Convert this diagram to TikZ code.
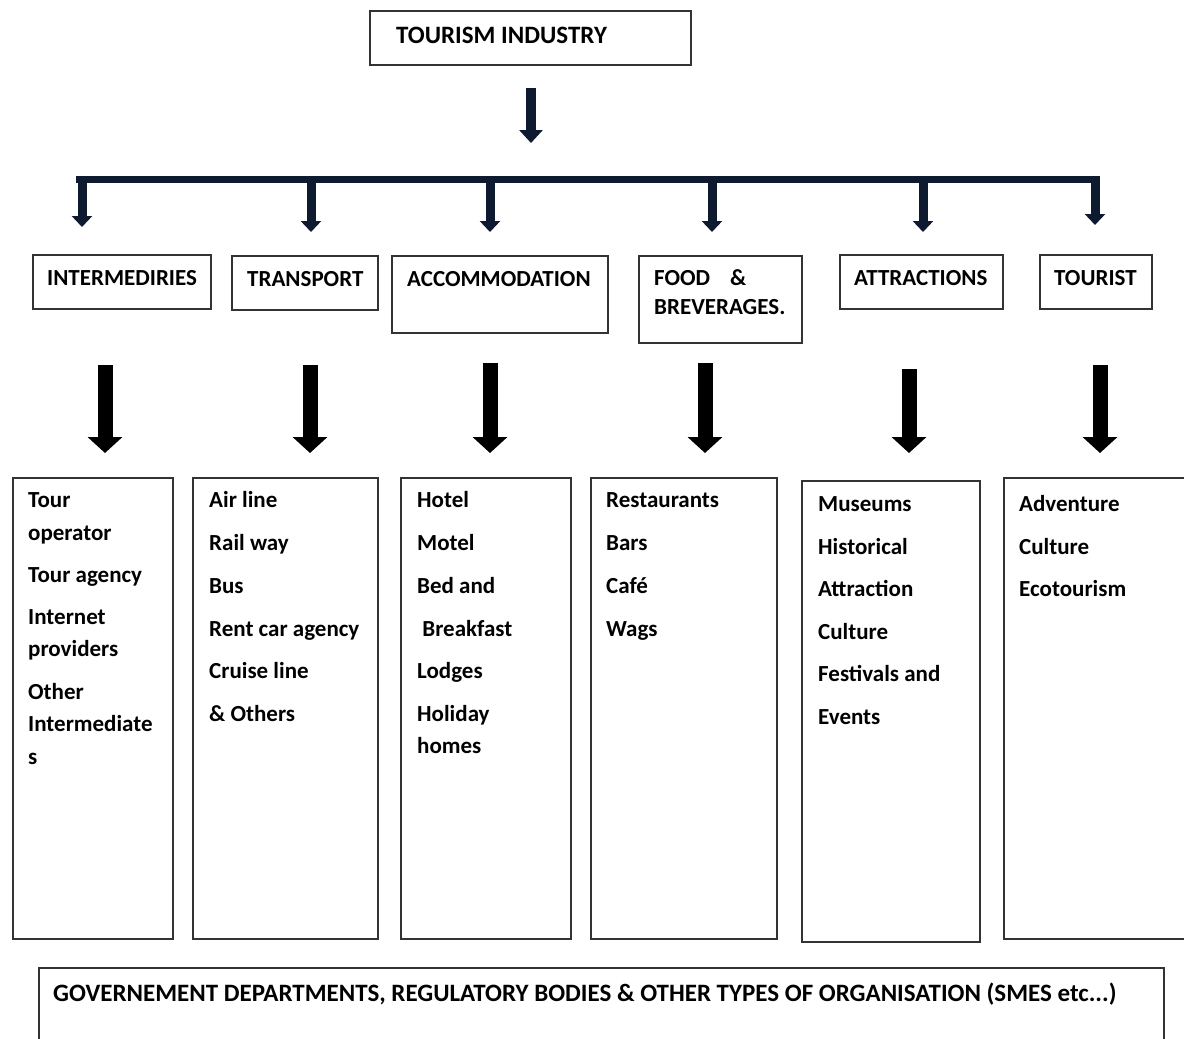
\documentclass[tikz,border=0pt]{standalone}
\usepackage{fontspec}
\setmainfont{Carlito}
\usetikzlibrary{arrows.meta}
\definecolor{navy}{HTML}{0D1A30}
\definecolor{boxline}{HTML}{333333}
\tikzset{
  box/.style={draw=boxline,line width=1.5pt,rectangle,inner sep=0pt,anchor=north west},
  lbl/.style={anchor=base west,inner sep=0pt,font=\fontsize{23}{32}\selectfont\bfseries},
  biglbl/.style={lbl,font=\fontsize{25}{32}\selectfont\bfseries},
  navyarrow/.style={navy,line width=9pt,-{Triangle[width=20pt,length=11pt]}},
  toparrow/.style={navy,line width=10pt,-{Triangle[width=23pt,length=13pt]}},
  blackarrow/.style={black,line width=15pt,-{Triangle[width=34pt,length=16pt]}},
}
\begin{document}
\begin{tikzpicture}[x=1pt,y=-1pt]
\useasboundingbox (0,0) rectangle (1184,1039);
\clip (0,0) rectangle (1184,1039);
% top
\node[box,minimum width=321pt,minimum height=54pt] (top) at (369,10) {};
\node[biglbl] (toptxt) at (396,43) {TOURISM INDUSTRY};
\coordinate (ta) at (531,88);
\coordinate (tb) at (531,143);
\draw[toparrow] (ta) -- (tb);
% bar
\coordinate (barL) at (76,179.5);
\coordinate (barR) at (1100,179.5);
\draw[navy,line width=7pt] (barL) -- (barR);
\foreach \n/\x/\t in {d1/82/227,d2/311/232,d3/490/232,d4/712/232,d5/923/232,d6/1095/225}{
  \coordinate (\n s) at (\x,176);
  \coordinate (\n e) at (\x,\t);
  \draw[navyarrow] (\n s) -- (\n e);
}
% tier 2
\node[box,minimum width=178pt,minimum height=54pt] (b1) at (32,254) {};
\node[lbl] at (47,285) {INTERMEDIRIES};
\node[box,minimum width=146pt,minimum height=54pt] (b2) at (231,255) {};
\node[lbl] at (247,286) {TRANSPORT};
\node[box,minimum width=216pt,minimum height=77pt] (b3) at (391,255) {};
\node[lbl] at (407,286) {ACCOMMODATION};
\node[box,minimum width=163pt,minimum height=87pt] (b4) at (638,255) {};
\node[lbl] at (654,285) {FOOD\hspace{20pt}\&};
\node[lbl] at (654,314) {BREVERAGES.};
\node[box,minimum width=163pt,minimum height=54pt] (b5) at (839,254) {};
\node[lbl] at (854,285) {ATTRACTIONS};
\node[box,minimum width=112pt,minimum height=54pt] (b6) at (1039,254) {};
\node[lbl] at (1054,285) {TOURIST};
% big arrows
\foreach \n/\x/\s in {e1/105/365,e2/310/365,e3/490/363,e4/705/363,e5/909/369,e6/1100/365}{
  \coordinate (\n s) at (\x,\s);
  \coordinate (\n e) at (\x,453);
  \draw[blackarrow] (\n s) -- (\n e);
}
% tier 3 boxes
\node[box,minimum width=160pt,minimum height=461pt] (l1) at (12,477) {};
\node[box,minimum width=185pt,minimum height=461pt] (l2) at (192,477) {};
\node[box,minimum width=170pt,minimum height=461pt] (l3) at (400,477) {};
\node[box,minimum width=186pt,minimum height=461pt] (l4) at (590,477) {};
\node[box,minimum width=178pt,minimum height=461pt] (l5) at (801,480) {};
\node[box,minimum width=200pt,minimum height=461pt] (l6) at (1003,477) {};
% list texts
\foreach \y/\t in {507/Tour,540/operator,582/Tour agency,624/Internet,656/providers,699/Other,731/Intermediate,764/s}
  \node[lbl] at (28,\y) {\t};
\foreach \y/\t in {507/Air line,550/Rail way,593/Bus,636/Rent car agency,678/Cruise line,721/\& Others}
  \node[lbl] at (209,\y) {\t};
\foreach \y/\t in {507/Hotel,550/Motel,593/Bed and,636/\ Breakfast,678/Lodges,721/Holiday,753/homes}
  \node[lbl] at (417,\y) {\t};
\foreach \y/\t in {507/Restaurants,550/Bars,593/Café,636/Wags}
  \node[lbl] at (606,\y) {\t};
\foreach \y/\t in {511/Museums,554/Historical,596/Attraction,639/Culture,681/Festivals and,724/Events}
  \node[lbl] at (818,\y) {\t};
\foreach \y/\t in {511/Adventure,554/Culture,596/Ecotourism}
  \node[lbl] at (1019,\y) {\t};
% bottom
\node[box,minimum width=1125pt,minimum height=100pt] (gov) at (38,967) {};
\node[biglbl] at (53,1001) {GOVERNEMENT DEPARTMENTS, REGULATORY BODIES \& OTHER TYPES OF ORGANISATION (SMES etc...)};
\end{tikzpicture}
\end{document}
